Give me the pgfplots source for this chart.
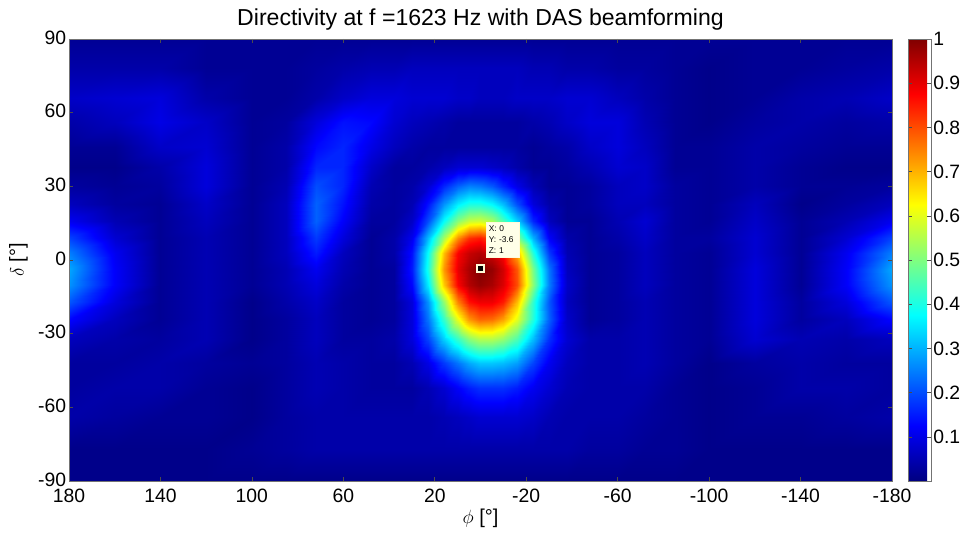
\documentclass[border=0pt]{standalone}
\usepackage{fontspec}
\setmainfont{Liberation Sans}
\usepackage{pgfplots}
\pgfplotsset{compat=1.18}
\usepackage{pgfplotstable}
\pgfplotstableread{
x y v
180 90 2
160 90 2
140 90 2
120 90 2
100 90 2
85 90 2
72 90 2
60 90 2
48 90 2
38 90 2
30 90 2
23 90 2
16 90 2
10 90 2
5 90 2
0 90 2
-5 90 2
-10 90 2
-16 90 2
-23 90 2
-30 90 2
-38 90 2
-48 90 2
-60 90 2
-72 90 2
-85 90 2
-100 90 2
-120 90 2
-140 90 2
-160 90 2
-180 90 2
180 78 4
160 78 4
140 78 4
120 78 2
100 78 2
85 78 2
72 78 3
60 78 4
48 78 5
38 78 5
30 78 6
23 78 6
16 78 6
10 78 6
5 78 6
0 78 6
-5 78 6
-10 78 6
-16 78 6
-23 78 5
-30 78 5
-38 78 4
-48 78 4
-60 78 3
-72 78 3
-85 78 2
-100 78 1
-120 78 2
-140 78 2
-160 78 3
-180 78 4
180 66 7
160 66 8
140 66 9
120 66 4
100 66 2
85 66 2
72 66 4
60 66 7
48 66 9
38 66 9
30 66 8
23 66 8
16 66 8
10 66 7
5 66 7
0 66 6
-5 66 6
-10 66 6
-16 66 7
-23 66 7
-30 66 7
-38 66 8
-48 66 8
-60 66 6
-72 66 4
-85 66 2
-100 66 1
-120 66 2
-140 66 4
-160 66 5
-180 66 7
180 56 4
160 56 6
140 56 10
120 56 7
100 56 2
85 56 3
72 56 9
60 56 14
48 56 13
38 56 8
30 56 6
23 56 5
16 56 4
10 56 3
5 56 3
0 56 3
-5 56 3
-10 56 3
-16 56 3
-23 56 4
-30 56 5
-38 56 7
-48 56 9
-60 56 9
-72 56 5
-85 56 2
-100 56 1
-120 56 3
-140 56 4
-160 56 3
-180 56 4
180 46 2
160 46 2
140 46 7
120 46 8
100 46 2
85 46 4
72 46 13
60 46 16
48 46 10
38 46 6
30 46 4
23 46 3
16 46 3
10 46 3
5 46 3
0 46 3
-5 46 3
-10 46 3
-16 46 3
-23 46 2
-30 46 3
-38 46 4
-48 46 7
-60 46 9
-72 46 6
-85 46 2
-100 46 2
-120 46 4
-140 46 3
-160 46 2
-180 46 2
180 38 1
160 38 1
140 38 4
120 38 9
100 38 2
85 38 4
72 38 16
60 38 16
48 38 7
38 38 3
30 38 3
23 38 4
16 38 6
10 38 8
5 38 8
0 38 8
-5 38 7
-10 38 6
-16 38 4
-23 38 2
-30 38 2
-38 38 3
-48 38 5
-60 38 8
-72 38 7
-85 38 2
-100 38 2
-120 38 4
-140 38 2
-160 38 1
-180 38 1
180 30 3
160 30 2
140 30 3
120 30 9
100 30 2
85 30 5
72 30 20
60 30 16
48 30 5
38 30 3
30 30 4
23 30 8
16 30 16
10 30 22
5 30 25
0 30 24
-5 30 21
-10 30 16
-16 30 10
-23 30 5
-30 30 2
-38 30 2
-48 30 3
-60 30 6
-72 30 7
-85 30 3
-100 30 2
-120 30 4
-140 30 2
-160 30 2
-180 30 3
180 23 6
160 23 3
140 23 2
120 23 7
100 23 2
85 23 6
72 23 22
60 23 14
48 23 4
38 23 3
30 23 5
23 23 14
16 23 27
10 23 36
5 23 40
0 23 40
-5 23 37
-10 23 31
-16 23 20
-23 23 9
-30 23 4
-38 23 2
-48 23 3
-60 23 6
-72 23 6
-85 23 3
-100 23 2
-120 23 6
-140 23 1
-160 23 3
-180 23 6
180 16 11
160 16 5
140 16 2
120 16 6
100 16 2
85 16 6
72 16 22
60 16 12
48 16 3
38 16 3
30 16 7
23 16 20
16 16 38
10 16 51
5 16 57
0 16 58
-5 16 54
-10 16 45
-16 16 33
-23 16 16
-30 16 6
-38 16 2
-48 16 2
-60 16 5
-72 16 8
-85 16 3
-100 16 2
-120 16 7
-140 16 2
-160 16 5
-180 16 11
180 9 19
160 9 8
140 9 2
120 9 5
100 9 2
85 9 6
72 9 18
60 9 9
48 9 2
38 9 4
30 9 11
23 9 31
16 9 54
10 9 74
5 9 83
0 9 85
-5 9 80
-10 9 69
-16 9 51
-23 9 30
-30 9 12
-38 9 4
-48 9 2
-60 9 4
-72 9 7
-85 9 3
-100 9 3
-120 9 8
-140 9 2
-160 9 8
-180 9 19
180 3 25
160 3 11
140 3 2
120 3 5
100 3 2
85 3 6
72 3 15
60 3 6
48 3 2
38 3 4
30 3 14
23 3 38
16 3 69
10 3 88
5 3 93
0 3 95
-5 3 92
-10 3 87
-16 3 70
-23 3 41
-30 3 18
-38 3 5
-48 3 2
-60 3 3
-72 3 6
-85 3 3
-100 3 2
-120 3 8
-140 3 2
-160 3 11
-180 3 25
180 -3.6 29
160 -3.6 12
140 -3.6 2
120 -3.6 5
100 -3.6 2
85 -3.6 5
72 -3.6 11
60 -3.6 5
48 -3.6 2
38 -3.6 3
30 -3.6 15
23 -3.6 40
16 -3.6 73
10 -3.6 90
5 -3.6 96
0 -3.6 100
-5 -3.6 98
-10 -3.6 92
-16 -3.6 79
-23 -3.6 49
-30 -3.6 24
-38 -3.6 6
-48 -3.6 2
-60 -3.6 3
-72 -3.6 6
-85 -3.6 3
-100 -3.6 2
-120 -3.6 9
-140 -3.6 2
-160 -3.6 12
-180 -3.6 29
180 -10 27
160 -10 12
140 -10 2
120 -10 5
100 -10 2
85 -10 5
72 -10 9
60 -10 4
48 -10 2
38 -10 3
30 -10 13
23 -10 36
16 -10 68
10 -10 88
5 -10 95
0 -10 98
-5 -10 96
-10 -10 91
-16 -10 80
-23 -10 51
-30 -10 25
-38 -10 7
-48 -10 2
-60 -10 3
-72 -10 6
-85 -10 3
-100 -10 2
-120 -10 9
-140 -10 2
-160 -10 12
-180 -10 27
180 -17 21
160 -17 9
140 -17 2
120 -17 5
100 -17 1
85 -17 4
72 -17 7
60 -17 3
48 -17 2
38 -17 3
30 -17 9
23 -17 27
16 -17 52
10 -17 75
5 -17 86
0 -17 89
-5 -17 89
-10 -17 85
-16 -17 69
-23 -17 42
-30 -17 21
-38 -17 6
-48 -17 2
-60 -17 3
-72 -17 5
-85 -17 3
-100 -17 2
-120 -17 9
-140 -17 3
-160 -17 9
-180 -17 21
180 -24 13
160 -24 6
140 -24 2
120 -24 5
100 -24 1
85 -24 3
72 -24 6
60 -24 3
48 -24 2
38 -24 3
30 -24 9
23 -24 24
16 -24 43
10 -24 61
5 -24 73
0 -24 78
-5 -24 77
-10 -24 72
-16 -24 60
-23 -24 41
-30 -24 22
-38 -24 7
-48 -24 2
-60 -24 3
-72 -24 5
-85 -24 3
-100 -24 2
-120 -24 9
-140 -24 3
-160 -24 6
-180 -24 13
180 -32 6
160 -32 4
140 -32 3
120 -32 5
100 -32 1
85 -32 3
72 -32 6
60 -32 3
48 -32 3
38 -32 4
30 -32 9
23 -32 19
16 -32 33
10 -32 43
5 -32 51
0 -32 55
-5 -32 55
-10 -32 52
-16 -32 45
-23 -32 31
-30 -32 17
-38 -32 8
-48 -32 4
-60 -32 4
-72 -32 5
-85 -32 3
-100 -32 2
-120 -32 8
-140 -32 5
-160 -32 4
-180 -32 6
180 -42 3
160 -42 3
140 -42 4
120 -42 3
100 -42 2
85 -42 3
72 -42 5
60 -42 4
48 -42 3
38 -42 3
30 -42 5
23 -42 10
16 -42 18
10 -42 24
5 -42 29
0 -42 32
-5 -42 32
-10 -42 31
-16 -42 28
-23 -42 19
-30 -42 11
-38 -42 6
-48 -42 4
-60 -42 4
-72 -42 5
-85 -42 3
-100 -42 1
-120 -42 3
-140 -42 4
-160 -42 3
-180 -42 3
180 -52 3
160 -52 4
140 -52 4
120 -52 2
100 -52 1
85 -52 3
72 -52 5
60 -52 4
48 -52 3
38 -52 3
30 -52 3
23 -52 5
16 -52 8
10 -52 12
5 -52 15
0 -52 17
-5 -52 17
-10 -52 17
-16 -52 15
-23 -52 11
-30 -52 8
-38 -52 5
-48 -52 4
-60 -52 4
-72 -52 4
-85 -52 2
-100 -52 1
-120 -52 2
-140 -52 4
-160 -52 4
-180 -52 3
180 -64 4
160 -64 3
140 -64 2
120 -64 2
100 -64 1
85 -64 3
72 -64 4
60 -64 4
48 -64 4
38 -64 4
30 -64 4
23 -64 4
16 -64 5
10 -64 6
5 -64 7
0 -64 8
-5 -64 8
-10 -64 8
-16 -64 8
-23 -64 7
-30 -64 5
-38 -64 4
-48 -64 4
-60 -64 4
-72 -64 3
-85 -64 2
-100 -64 1
-120 -64 2
-140 -64 2
-160 -64 3
-180 -64 4
180 -77 1
160 -77 1
140 -77 1
120 -77 1
100 -77 2
85 -77 3
72 -77 4
60 -77 4
48 -77 4
38 -77 4
30 -77 4
23 -77 4
16 -77 4
10 -77 4
5 -77 4
0 -77 4
-5 -77 4
-10 -77 4
-16 -77 4
-23 -77 4
-30 -77 4
-38 -77 4
-48 -77 3
-60 -77 3
-72 -77 2
-85 -77 2
-100 -77 1
-120 -77 1
-140 -77 1
-160 -77 1
-180 -77 1
180 -90 1
160 -90 1
140 -90 1
120 -90 1
100 -90 1
85 -90 1
72 -90 1
60 -90 1
48 -90 1
38 -90 1
30 -90 1
23 -90 1
16 -90 1
10 -90 1
5 -90 1
0 -90 1
-5 -90 1
-10 -90 1
-16 -90 1
-23 -90 1
-30 -90 1
-38 -90 1
-48 -90 1
-60 -90 1
-72 -90 1
-85 -90 1
-100 -90 1
-120 -90 1
-140 -90 1
-160 -90 1
-180 -90 1
}\dirdata
\definecolor{tipbg}{RGB}{255,255,232}
\definecolor{tipedge}{RGB}{255,250,215}
\begin{document}
\begin{tikzpicture}
\path[use as bounding box] (-51.75pt,-40.5pt) rectangle (672pt,360.75pt);
\begin{axis}[
  at={(0pt,0pt)}, anchor=south west,
  scale only axis,
  width=617.25pt, height=331.5pt,
  xmin=-180, xmax=180, ymin=-90, ymax=90,
  x dir=reverse,
  enlargelimits=false,
  axis on top,
  xtick={180,140,100,60,20,-20,-60,-100,-140,-180},
  xticklabels={180,140,100,60,20,-20,-60,-100,-140,-180},
  ytick={-90,-60,-30,0,30,60,90},
  yticklabels={-90,-60,-30,0,30,60,90},
  tick label style={font=\fontsize{14.5}{16}\selectfont},
  xticklabel style={anchor=north, inner sep=0pt, yshift=-5.5pt},
  yticklabel style={anchor=east, inner sep=0pt, xshift=-2pt, yshift=1pt},
  major tick length=3pt,
  tick style={black!70, thin},
  axis line style={black!55, line width=0.5pt},
  xlabel={$\phi$ [°]},
  ylabel={$\delta$ [°]},
  label style={font=\fontsize{15}{18}\selectfont},
  xlabel style={at={(axis description cs:0.5,0)}, anchor=north, inner sep=0pt, yshift=-21pt},
  ylabel style={at={(axis description cs:-0.0498,0.5)}, anchor=south, inner sep=0pt},
  title={Directivity at f =1623 Hz with DAS beamforming},
  title style={font=\fontsize{17.3}{20}\selectfont, at={(axis description cs:0.5,1)}, anchor=base, yshift=3.75pt, inner sep=0pt},
  colormap/jet,
  point meta min=0, point meta max=100,
  colorbar,
  colorbar style={
    at={(parent axis.north east)}, anchor=north west, xshift=3.5pt,
    width=17.25pt,
    ytick={10,20,...,100},
    yticklabels={0.1,0.2,0.3,0.4,0.5,0.6,0.7,0.8,0.9,1},
    yticklabel style={font=\fontsize{14.5}{16}\selectfont, anchor=west, inner sep=0pt, xshift=1.5pt},
    major tick length=3pt,
    axis line style={black!55},
  },
]
\addplot[surf, shader=interp, mesh/cols=31, point meta=explicit] table[x=x, y=y, meta=v] {\dirdata};
\addplot[only marks, mark=square*, mark size=2.75pt, mark options={fill=black, draw=tipedge, line width=1.5pt}] coordinates {(0,-3.6)};
\node[anchor=south west, xshift=4.5pt, yshift=8.25pt, fill=tipbg, draw=tipedge, inner sep=1.5pt,
      minimum width=24.75pt, minimum height=26.25pt, text width=21.75pt, align=left,
      font=\fontsize{6.3}{8.25}\selectfont] at (axis cs:0,-3.6) {X: 0\\Y: -3.6\\Z: 1};
\end{axis}
\end{tikzpicture}
\end{document}
